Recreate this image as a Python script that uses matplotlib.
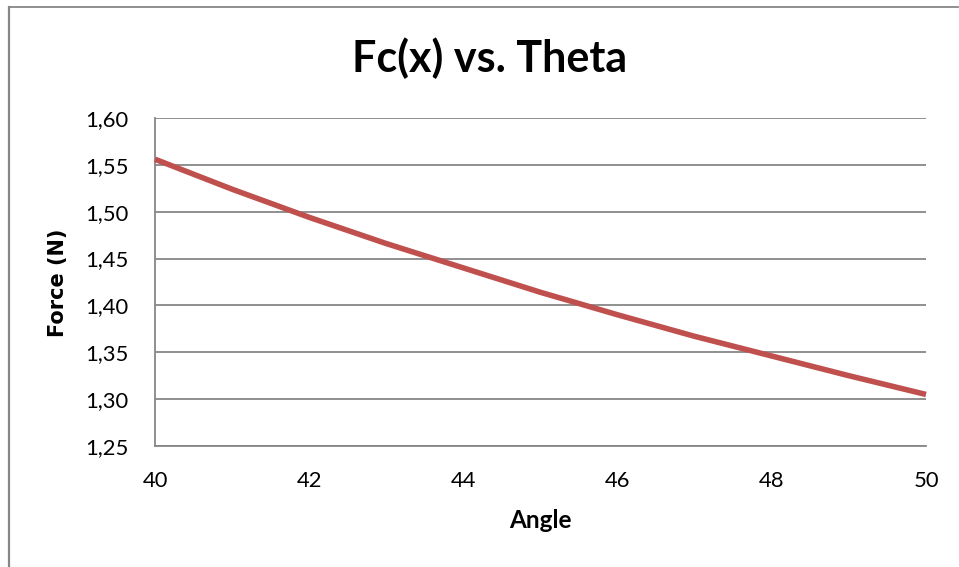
import matplotlib
matplotlib.use("Agg")
import matplotlib.pyplot as plt
from matplotlib.lines import Line2D

angle = [40, 41, 42, 43, 44, 45, 46, 47, 48, 49, 50]
force = [1.556, 1.524, 1.494, 1.466, 1.440, 1.414, 1.390, 1.367, 1.346, 1.325, 1.305]
y_ticks = [1.25, 1.30, 1.35, 1.40, 1.45, 1.50, 1.55, 1.60]
x_ticks = [40, 42, 44, 46, 48, 50]

W, H = 959, 567
fig = plt.figure(figsize=(W / 100, H / 100), dpi=100)
ax = fig.add_axes([155 / W, 1 - 446 / H, (926 - 155) / W, (446 - 118) / H])

ax.plot(angle, force, color="#C0504D", lw=4.0, solid_capstyle="butt", clip_on=False, zorder=3)

ax.set_xlim(40, 50)
ax.set_ylim(1.25, 1.60)
ax.set_xticks(x_ticks)
ax.set_yticks(y_ticks)
ax.set_yticklabels([f"{v:.2f}".replace(".", ",") for v in y_ticks])
ax.set_xticklabels([str(v) for v in x_ticks])
ax.tick_params(length=0, labelsize=15.8)
ax.tick_params(axis="y", pad=19)
ax.tick_params(axis="x", pad=18)
for lbl in ax.get_xticklabels() + ax.get_yticklabels():
    lbl.set_family("Lato")

ax.grid(axis="y", color="#878787", lw=1.3)
ax.set_axisbelow(True)
for s in ["top", "right"]:
    ax.spines[s].set_visible(False)
for s in ["left", "bottom"]:
    ax.spines[s].set_color("#878787")
    ax.spines[s].set_linewidth(1.3)

fig.text(490 / W, 1 - 72 / H, "Fc(x) vs. Theta", ha="center", va="baseline",
         family="Lato", weight="bold", fontsize=31)
fig.text(540 / W, 1 - 528 / H, "Angle", ha="center", va="baseline",
         family="Lato", weight="bold", fontsize=17.5)
fig.text(58 / W, 1 - 283 / H, "Force (N)", ha="center", va="center", rotation=90,
         family="DejaVu Sans", weight="bold", fontsize=15)

# chart frame
fig.add_artist(Line2D([8.5 / W, 958 / W], [1 - 6.5 / H, 1 - 6.5 / H], color="#878787", lw=1.3))
fig.add_artist(Line2D([9 / W, 9 / W], [1 - 6.5 / H, 0], color="#878787", lw=1.6))

fig.savefig("out.png", dpi=100)
